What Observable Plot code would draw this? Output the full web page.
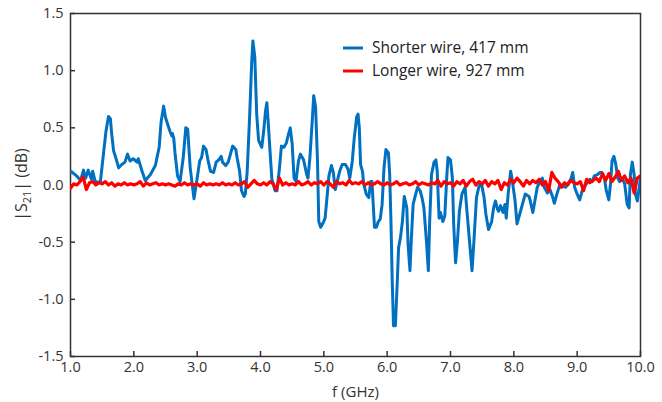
<!DOCTYPE html>
<html>
<head>
<meta charset="utf-8">
<script src="https://cdn.jsdelivr.net/npm/d3@7"></script>
<script src="https://cdn.jsdelivr.net/npm/@observablehq/plot@0.6"></script>
<style>
  html, body { margin: 0; padding: 0; background: #fff; }
  #chart { width: 662px; height: 402px; }
</style>
</head>
<body>
<div id="chart"></div>
<script>
// ---- data ----
const xTicks = [1, 2, 3, 4, 5, 6, 7, 8, 9, 10];
const yTicks = [-1.5, -1.0, -0.5, 0.0, 0.5, 1.0, 1.5];
const seriesNames = ["Shorter wire, 417 mm", "Longer wire, 927 mm"];
const seriesColors = ["#0070C0", "#FF0000"];

// Shorter wire: [f (GHz), |S21| (dB)]
const shorterWire = [
  [1.01,0.12],[1.095,0.08],[1.16,0.04],[1.205,0.13],[1.24,0.06],[1.28,0.13],[1.33,0.05],[1.35,0.12],[1.39,0.03],[1.47,0.02],
  [1.52,0.27],[1.56,0.47],[1.60,0.60],[1.63,0.58],[1.65,0.45],[1.68,0.30],[1.72,0.23],[1.76,0.15],[1.81,0.18],[1.86,0.20],
  [1.90,0.27],[1.94,0.21],[1.99,0.23],[2.05,0.20],[2.07,0.23],[2.13,0.12],[2.18,0.04],[2.26,0.09],[2.34,0.17],[2.40,0.33],
  [2.43,0.55],[2.47,0.69],[2.50,0.59],[2.54,0.52],[2.57,0.47],[2.60,0.43],[2.61,0.45],[2.63,0.41],[2.65,0.28],[2.69,0.08],
  [2.73,0.03],[2.78,0.24],[2.82,0.50],[2.85,0.49],[2.89,0.15],[2.95,-0.12],[3.00,0.06],[3.04,0.21],[3.07,0.24],[3.10,0.34],
  [3.14,0.31],[3.17,0.22],[3.21,0.12],[3.26,0.11],[3.30,0.20],[3.34,0.22],[3.38,0.25],[3.40,0.20],[3.45,0.17],[3.49,0.20],
  [3.53,0.28],[3.56,0.34],[3.61,0.31],[3.63,0.24],[3.67,0.12],[3.70,-0.05],[3.74,-0.10],[3.76,-0.08],[3.79,0.12],[3.83,0.62],
  [3.86,1.06],[3.88,1.26],[3.91,1.12],[3.94,0.62],[3.97,0.39],[4.02,0.33],[4.05,0.47],[4.08,0.65],[4.10,0.72],[4.12,0.56],
  [4.15,0.30],[4.18,0.05],[4.23,-0.05],[4.26,-0.05],[4.30,0.15],[4.33,0.34],[4.37,0.33],[4.41,0.37],[4.44,0.44],[4.47,0.50],
  [4.50,0.36],[4.53,0.06],[4.56,0.03],[4.60,0.21],[4.63,0.27],[4.68,0.22],[4.73,0.09],[4.75,0.06],[4.78,0.24],[4.82,0.59],
  [4.84,0.78],[4.87,0.68],[4.90,0.21],[4.92,-0.32],[4.95,-0.37],[4.99,-0.33],[5.02,-0.29],[5.05,-0.11],[5.08,0.08],[5.12,0.17],
  [5.15,0.11],[5.18,-0.04],[5.21,0.03],[5.25,0.12],[5.29,0.18],[5.34,0.18],[5.38,0.14],[5.41,0.06],[5.45,0.21],[5.48,0.41],
  [5.52,0.60],[5.54,0.62],[5.56,0.50],[5.58,0.18],[5.61,0.12],[5.63,0.01],[5.67,-0.08],[5.71,-0.11],[5.74,0.03],[5.76,0.03],
  [5.80,-0.37],[5.83,-0.37],[5.86,-0.32],[5.89,-0.30],[5.92,-0.17],[5.95,0.15],[5.98,0.31],[6.02,0.28],[6.04,0.09],[6.06,-0.32],
  [6.08,-0.84],[6.10,-1.23],[6.13,-1.23],[6.16,-0.84],[6.18,-0.55],[6.21,-0.46],[6.24,-0.32],[6.27,-0.10],[6.31,-0.20],[6.33,-0.52],
  [6.36,-0.75],[6.38,-0.49],[6.41,-0.17],[6.45,-0.08],[6.48,-0.02],[6.52,-0.05],[6.55,-0.11],[6.58,-0.20],[6.62,-0.49],[6.65,-0.75],
  [6.67,-0.34],[6.70,0.09],[6.74,0.20],[6.77,0.22],[6.79,0.12],[6.82,-0.29],[6.84,-0.24],[6.88,-0.32],[6.91,-0.27],[6.94,0.06],
  [6.96,0.24],[7.00,0.22],[7.03,0.06],[7.05,-0.34],[7.08,-0.68],[7.11,-0.49],[7.14,-0.23],[7.18,-0.08],[7.23,-0.02],[7.26,-0.23],
  [7.30,-0.49],[7.34,-0.75],[7.37,-0.49],[7.41,-0.11],[7.45,-0.01],[7.49,0.01],[7.53,-0.11],[7.56,-0.26],[7.60,-0.39],[7.65,-0.32],
  [7.68,-0.20],[7.71,-0.14],[7.74,-0.21],[7.76,-0.23],[7.79,-0.18],[7.83,-0.24],[7.86,-0.17],[7.88,-0.29],[7.91,-0.08],[7.95,0.12],
  [7.97,0.06],[8.02,-0.14],[8.05,-0.34],[8.09,-0.26],[8.13,-0.18],[8.18,-0.08],[8.24,-0.10],[8.26,-0.14],[8.30,-0.24],[8.37,-0.02],
  [8.41,0.03],[8.45,0.06],[8.48,-0.02],[8.53,-0.07],[8.57,-0.04],[8.61,-0.10],[8.64,-0.16],[8.68,-0.08],[8.73,0.01],[8.76,-0.01],
  [8.82,-0.02],[8.85,0.01],[8.90,0.05],[8.93,0.11],[8.96,-0.02],[9.00,-0.08],[9.04,-0.13],[9.08,-0.05],[9.12,-0.01],[9.16,0.02],
  [9.20,0.05],[9.24,0.03],[9.27,0.08],[9.32,0.09],[9.36,0.11],[9.39,0.11],[9.43,0.06],[9.46,-0.05],[9.50,-0.13],[9.53,0.03],
  [9.55,0.21],[9.58,0.25],[9.61,0.18],[9.64,0.06],[9.67,0.03],[9.71,0.06],[9.75,0.01],[9.79,-0.17],[9.82,-0.20],[9.84,0.09],
  [9.87,0.20],[9.90,0.09],[9.92,-0.08],[9.95,-0.14],[9.98,-0.02],[10.0,0.06]
];

// Longer wire: values every 0.05 GHz from 1.00 to 10.00
const longerStart = 1.0, longerStep = 0.05;
const longerWire = [
  -0.03,0.01,0.00,0.03,0.07,-0.04,0.02,0.03,0.00,0.02,
  0.01,0.03,0.00,0.02,-0.01,0.01,0.00,0.02,0.00,0.01,
  0.00,0.01,0.03,-0.01,0.02,0.00,0.01,0.02,0.00,0.01,
  0.00,0.01,0.00,-0.01,0.01,0.00,0.02,0.00,0.01,0.00,
  0.01,-0.01,0.02,0.00,0.01,0.00,0.01,0.00,0.02,0.00,
  0.01,0.00,0.02,0.00,0.01,0.03,-0.02,0.01,0.04,0.01,
  0.00,0.02,0.00,0.03,0.01,-0.04,0.06,0.00,0.02,0.00,
  0.01,0.00,0.03,0.00,0.01,0.03,0.00,0.02,0.01,0.03,
  0.00,0.03,0.01,-0.02,0.03,0.01,0.02,0.00,0.04,0.01,
  0.02,0.01,0.03,0.00,0.02,0.00,0.01,0.03,0.01,0.00,
  0.02,0.00,0.01,0.03,0.00,0.01,0.02,0.00,0.01,0.03,
  0.00,0.02,0.01,0.00,0.02,0.01,0.04,-0.01,0.03,0.01,
  0.02,-0.01,0.03,0.01,0.04,-0.01,0.03,0.05,0.00,0.03,
  0.01,0.04,-0.01,0.03,0.01,0.04,-0.04,0.02,0.00,0.05,
  0.02,0.06,0.03,-0.01,0.04,0.01,0.04,0.02,0.05,0.00,
  0.03,-0.05,0.11,0.06,0.03,-0.02,0.02,0.00,0.04,0.02,
  0.01,0.03,-0.05,0.05,0.02,0.04,0.06,0.03,0.10,0.04,
  0.10,0.03,0.07,0.12,0.04,0.08,0.02,0.06,-0.07,0.06,
  0.08
];

// ---- build table ----
const rows = [];
shorterWire.forEach(([f, v]) => rows.push({series: seriesNames[0], f, v}));
longerWire.forEach((v, i) => rows.push({series: seriesNames[1], f: +(longerStart + i * longerStep).toFixed(2), v}));

const W = 662, H = 402;
const mL = 70, mR = 22, mT = 13, mB = 46;
const frameW = W - mL - mR, frameH = H - mT - mB;
const font = "'Open Sans', 'DejaVu Sans', sans-serif";
const ink = "#333";

const chart = Plot.plot({
  width: W, height: H,
  marginLeft: mL, marginRight: mR, marginTop: mT, marginBottom: mB,
  style: {fontFamily: font, fontSize: "14px", color: ink, background: "#fff"},
  x: {domain: [1, 10]},
  y: {domain: [-1.5, 1.5]},
  color: {domain: seriesNames, range: seriesColors},
  marks: [
    Plot.frame({stroke: ink, strokeWidth: 1.5}),
    Plot.tickX(xTicks, {x: d => d, stroke: ink, strokeWidth: 1.5, insetTop: frameH - 5}),
    Plot.tickY(yTicks, {y: d => d, stroke: ink, strokeWidth: 1.5, insetRight: frameW - 5}),
    Plot.axisX({ticks: xTicks, tickSize: 0, tickPadding: 5, tickFormat: d => d.toFixed(1), label: null, fill: ink, fontSize: 14.5}),
    Plot.axisY({ticks: yTicks, tickSize: 0, tickPadding: 7, tickFormat: d => d.toFixed(1), label: null, fill: ink, fontSize: 14.5}),
    Plot.line(rows.filter(d => d.series === seriesNames[0]), {x: "f", y: "v", stroke: "series", strokeWidth: 3, strokeLinejoin: "round", clip: true}),
    Plot.line(rows.filter(d => d.series === seriesNames[1]), {x: "f", y: "v", stroke: "series", strokeWidth: 3.2, strokeLinejoin: "round", clip: true}),
    Plot.text(["f (GHz)"], {frameAnchor: "bottom", dy: 40, fontSize: 15, fill: ink})
  ]
});
document.getElementById("chart").appendChild(chart);

// ---- y axis label with subscript ----
const svg = d3.select(chart);
const yl = svg.append("text")
  .attr("transform", `translate(27,${mT + frameH / 2}) rotate(-90)`)
  .attr("text-anchor", "middle")
  .attr("fill", ink)
  .style("font-family", font)
  .style("font-size", "16px");
yl.append("tspan").text("|S");
yl.append("tspan").attr("dy", 4).style("font-size", "11px").text("21");
yl.append("tspan").attr("dy", -4).text("| (dB)");

// ---- legend ----
const lg = svg.append("g").style("font-family", font).style("font-size", "15.5px").attr("text-anchor", "start");
seriesNames.forEach((name, i) => {
  const y = 48 + i * 23;
  lg.append("line").attr("x1", 343).attr("x2", 363).attr("y1", y).attr("y2", y)
    .attr("stroke", seriesColors[i]).attr("stroke-width", 3);
  lg.append("text").attr("x", 372).attr("y", y).attr("dy", "0.35em").attr("text-anchor", "start").attr("fill", "#222").text(name);
});
</script>
</body>
</html>
